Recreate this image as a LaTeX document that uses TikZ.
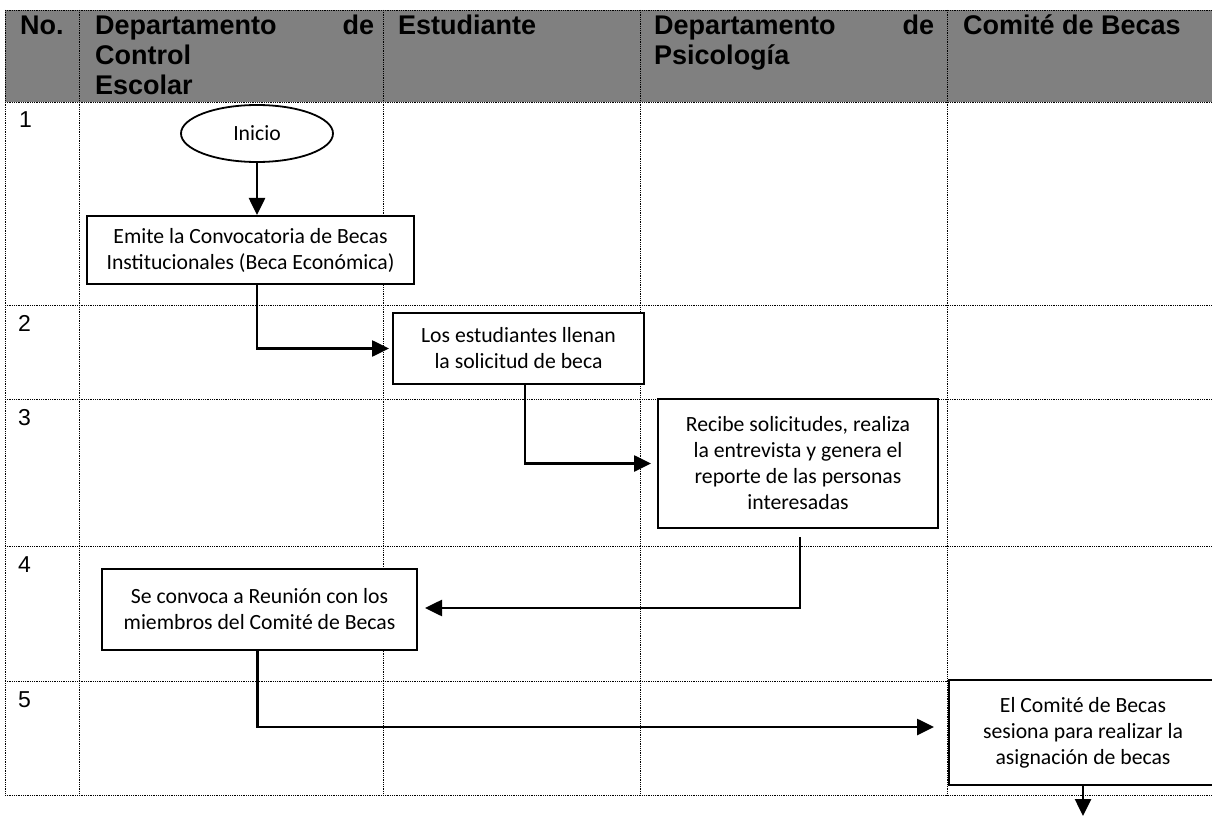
\documentclass[tikz,border=0pt]{standalone}
\usepackage{fontspec}
\setmainfont{Liberation Sans}
\newfontfamily\carlito{Carlito}
\usetikzlibrary{arrows.meta,shapes.geometric}
\newcommand\boxfont{\carlito\fontsize{21.7}{26}\selectfont}
\newcommand\hdrfont{\bfseries\fontsize{27}{30}\selectfont}
\newcommand\numfont{\fontsize{23}{26}\selectfont}
\definecolor{hdrgray}{RGB}{128,128,128}
\tikzset{
  gridline/.style={line width=0.9pt, dash pattern=on 0.9pt off 0.9pt},
  proc/.style={draw, line width=2pt, fill=white, inner sep=0pt, align=center, font=\boxfont},
  flow/.style={line width=2.6pt, -{Triangle[length=17pt,width=16pt]}},
  hdr/.style={font=\hdrfont, inner sep=0pt, anchor=base west},
  num/.style={font=\numfont, inner sep=0pt, anchor=base west}
}
\begin{document}
\begin{tikzpicture}[x=1pt,y=-1pt]
\useasboundingbox (0,0) rectangle (1212,818);
\clip (0,0) rectangle (1212,818);
% header background
\fill[hdrgray] (5,10) rectangle (1220,102);
% grid
\foreach \yy in {10,102,305,399,546,681,795}
  \draw[gridline] (5,\yy) -- (1220,\yy);
\foreach \xx in {5,79,383,640,947}
  \draw[gridline] (\xx,10) -- (\xx,795);
% header texts
\node[hdr] (hno) at (20,35) {No.};
\node[hdr] (hdcea) at (95,35) {\makebox[279pt][s]{Departamento\hfill de}};
\node[hdr] (hdceb) at (95,65) {Control};
\node[hdr] (hdcec) at (95,95) {Escolar};
\node[hdr] (hest) at (398,35) {Estudiante};
\node[hdr] (hpsia) at (654,35) {\makebox[280pt][s]{Departamento\hfill de}};
\node[hdr] (hpsib) at (654,65) {Psicología};
\node[hdr] (hcom) at (963,35) {Comité de Becas};
% row numbers
\node[num] (n1) at (19,128) {1};
\node[num] (n2) at (18,331) {2};
\node[num] (n3) at (18,425) {3};
\node[num] (n4) at (18,572) {4};
\node[num] (n5) at (18,707) {5};
% flow nodes
\node[ellipse, draw, line width=1.8pt, fill=white, inner sep=0pt,
      minimum width=152pt, minimum height=57pt, font=\boxfont] (ini) at (257,133.5) {Inicio};
\node[proc, minimum width=327pt, minimum height=68pt] (b1) at (250.5,250)
  {Emite la Convocatoria de Becas\\Institucionales (Beca Económica)};
\node[proc, minimum width=251pt, minimum height=71pt] (b2) at (518.5,348.5)
  {Los estudiantes llenan\\la solicitud de beca};
\node[proc, minimum width=280pt, minimum height=129pt] (b3) at (798,463.5)
  {Recibe solicitudes, realiza\\la entrevista y genera el\\reporte de las personas\\interesadas};
\node[proc, minimum width=315pt, minimum height=81pt] (b4) at (259.5,609.5)
  {Se convoca a Reunión con los\\miembros del Comité de Becas};
\node[proc, draw=none, minimum width=266pt, minimum height=103pt] (b5) at (1083,732.5)
  {El Comité de Becas\\sesiona para realizar la\\asignación de becas};
\draw[line width=2pt] ([xshift=300pt]b5.north west) -- (b5.north west)
  -- (b5.south west) -- ([xshift=300pt]b5.south west);
\coordinate (endp) at (1083,816);
% connectors
\draw[flow] (ini.south) -- (ini.south |- b1.north);
\draw[flow, shorten >=3pt] (ini.south |- b1.south) |- (b2.west);
\draw[flow, shorten >=6pt] ([xshift=6.5pt]b2.south) |- (b3.west);
\draw[flow, shorten >=7pt] ([xshift=2pt,yshift=-8pt]b3.south) |- ([yshift=1.5pt]b4.east);
\draw[flow, shorten >=15pt] ([xshift=-2pt]b4.south) |- ([yshift=5.5pt]b5.west);
\draw[flow] (b5.south) -- (endp);
\end{tikzpicture}
\end{document}
